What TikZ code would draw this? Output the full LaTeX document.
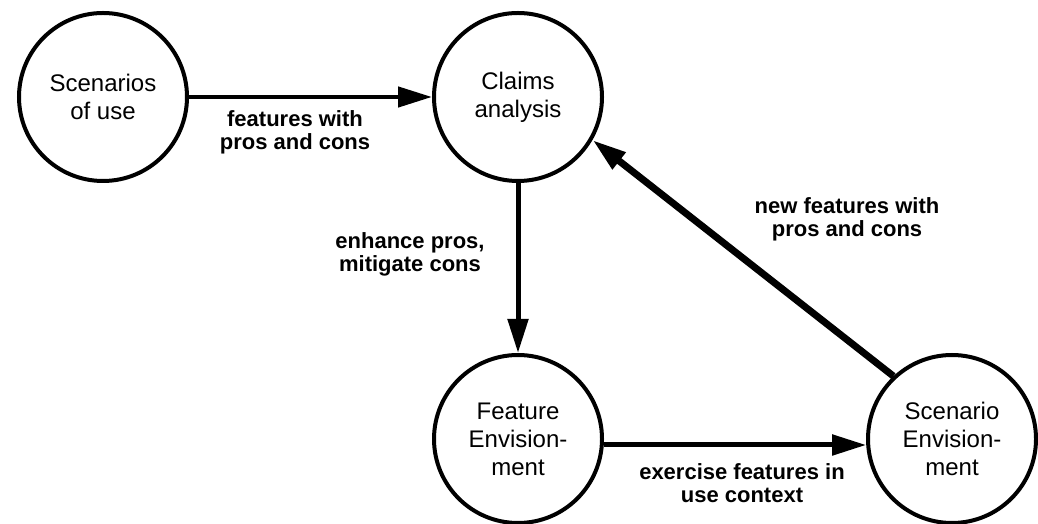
\documentclass[tikz,border=0pt]{standalone}
\usepackage{fontspec}
\setmainfont{Liberation Sans}
\usetikzlibrary{arrows.meta}
\begin{document}
\begin{tikzpicture}[x=1pt,y=1pt,
  stage/.style={circle, draw, line width=4pt, minimum size=168pt, inner sep=0pt, align=center,
    font=\fontsize{24}{28}\selectfont},
  flow/.style={line width=5pt, -{Triangle[length=34pt,width=20pt]}},
  lbl/.style={align=center, inner sep=0pt,
    font={\fontsize{22}{23}\selectfont\bfseries}}]
\useasboundingbox (0,0) rectangle (1038,524);
\node[stage] (A) at (103,427) {Scenarios\\of use};
\node[stage] (B) at (518,427) {Claims\\analysis};
\node[stage] (C) at (518,85) {Feature\\Envision-\\ment};
\node[stage] (D) at (952,85) {Scenario\\Envision-\\ment};
\draw[flow, line width=4.5pt] (A) -- (B);
\draw[flow] (B) -- (C);
\draw[flow] (C.-4) -- (D.184);
\draw[flow, line width=7pt] (D.133) -- (B.-30);
\node[lbl] (l1) at (295,392) {features with\\pros and cons};
\node[lbl] (l2) at (410,270) {enhance pros,\\mitigate cons};
\node[lbl] (l3) at (847,305) {new features with\\pros and cons};
\node[lbl] (l4) at (742,41) {exercise features in\\use context};
\end{tikzpicture}
\end{document}
